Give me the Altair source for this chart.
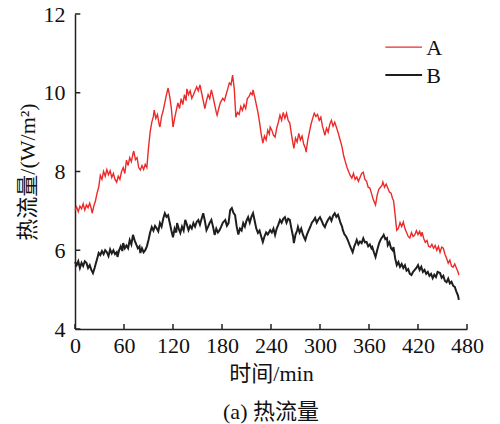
import altair as alt
import pandas as pd

# Heat-flux time series (min, W/m^2)
t_a = [0, 2, 4, 6, 8, 10, 12, 14, 16, 18, 20, 21, 23, 25, 27, 29, 31, 33, 35, 37, 39, 41, 43, 45, 47, 49, 51, 53, 55, 57, 59, 61, 63, 65, 67, 69, 71, 72, 74, 76, 78, 80, 82, 84, 86, 88, 90, 92, 94, 96, 97, 99, 101, 103, 104, 106, 108, 110, 112, 114, 116, 118, 120, 122, 124, 126, 128, 130, 132, 134, 136, 137, 139, 141, 143, 145, 147, 149, 151, 153, 155, 157, 159, 161, 163, 165, 167, 169, 171, 173, 174, 176, 178, 181, 183, 185, 187, 189, 191, 193, 195, 197, 199, 201, 203, 205, 207, 209, 211, 213, 215, 217, 218, 220, 222, 224, 226, 228, 230, 232, 234, 236, 238, 239, 241, 243, 245, 247, 249, 251, 253, 255, 257, 259, 261, 263, 265, 267, 268, 270, 272, 274, 276, 278, 280, 282, 283, 285, 287, 289, 291, 293, 295, 297, 299, 301, 303, 305, 306, 308, 310, 312, 314, 316, 318, 320, 322, 324, 326, 327, 329, 331, 333, 335, 337, 339, 341, 343, 345, 347, 349, 351, 353, 355, 357, 359, 361, 363, 365, 367, 368, 370, 372, 374, 376, 377, 379, 381, 383, 385, 387, 389, 390, 392, 393, 394, 396, 398, 400, 402, 404, 406, 408, 410, 412, 414, 416, 418, 420, 422, 424, 425, 427, 429, 431, 433, 435, 437, 439, 441, 443, 445, 447, 449, 451, 453, 455, 457, 459, 461, 463, 465, 467, 469, 470]
v_a = [7.02, 7.10, 6.98, 7.12, 7.05, 7.18, 7.02, 7.15, 7.08, 7.20, 7.05, 6.94, 7.12, 7.25, 7.45, 7.60, 7.90, 7.80, 8.00, 7.88, 8.05, 7.92, 8.02, 7.85, 7.95, 7.80, 7.73, 7.88, 7.80, 8.00, 8.10, 7.95, 8.29, 8.15, 8.35, 8.25, 8.45, 8.52, 8.30, 8.35, 8.10, 8.04, 8.15, 8.05, 8.18, 8.10, 8.60, 9.00, 9.25, 9.40, 9.56, 9.35, 9.45, 9.20, 9.13, 9.40, 9.55, 9.75, 9.95, 10.12, 9.90, 9.60, 9.13, 9.35, 9.55, 9.74, 9.60, 9.85, 9.70, 9.95, 9.80, 10.10, 9.95, 10.05, 9.86, 9.95, 10.05, 10.15, 10.05, 10.20, 10.00, 9.80, 9.60, 9.80, 9.95, 9.85, 10.07, 9.90, 9.70, 9.50, 9.43, 9.60, 9.75, 9.86, 9.80, 9.95, 10.10, 10.25, 10.20, 10.45, 10.10, 9.38, 9.50, 9.45, 9.65, 9.55, 9.70, 9.60, 9.85, 9.90, 10.00, 9.95, 10.07, 9.90, 9.70, 9.50, 9.25, 8.95, 8.72, 8.90, 8.80, 9.05, 8.95, 9.13, 9.05, 8.92, 8.87, 9.10, 9.25, 9.43, 9.30, 9.50, 9.35, 9.48, 9.30, 9.23, 8.95, 8.70, 8.59, 8.85, 8.75, 8.97, 8.80, 8.90, 8.70, 8.60, 8.49, 8.80, 9.00, 9.20, 9.35, 9.48, 9.40, 9.45, 9.30, 9.38, 9.15, 9.00, 8.92, 9.10, 9.00, 9.20, 9.30, 9.15, 9.25, 9.13, 9.00, 8.85, 8.70, 8.62, 8.40, 8.25, 8.11, 8.00, 7.90, 7.83, 7.95, 7.80, 7.86, 7.75, 7.85, 7.95, 7.98, 7.80, 7.75, 7.60, 7.58, 7.45, 7.30, 7.20, 7.15, 7.40, 7.55, 7.60, 7.65, 7.73, 7.60, 7.68, 7.58, 7.48, 7.45, 7.30, 7.27, 6.90, 6.69, 6.51, 6.56, 6.70, 6.60, 6.72, 6.55, 6.45, 6.35, 6.31, 6.45, 6.35, 6.39, 6.50, 6.40, 6.48, 6.35, 6.46, 6.30, 6.20, 6.25, 6.10, 6.08, 6.15, 6.05, 6.12, 6.00, 6.10, 5.95, 6.08, 6.05, 5.90, 5.80, 5.67, 5.75, 5.60, 5.57, 5.65, 5.55, 5.45, 5.37]

t_b = [0, 2, 4, 6, 8, 10, 12, 14, 16, 18, 20, 22, 24, 26, 28, 29, 31, 33, 35, 37, 39, 41, 43, 45, 47, 49, 51, 52, 54, 56, 58, 59, 61, 63, 65, 67, 69, 71, 73, 75, 77, 79, 80, 82, 84, 86, 88, 90, 92, 94, 96, 98, 100, 102, 104, 106, 108, 110, 112, 114, 116, 118, 120, 122, 124, 125, 127, 129, 131, 133, 135, 137, 139, 141, 143, 145, 147, 149, 151, 153, 155, 157, 159, 161, 163, 165, 167, 169, 171, 173, 175, 177, 179, 181, 184, 186, 188, 190, 192, 194, 196, 198, 200, 202, 204, 206, 208, 210, 212, 214, 216, 218, 220, 222, 224, 226, 228, 230, 232, 234, 236, 239, 241, 243, 245, 247, 249, 251, 253, 255, 257, 259, 261, 263, 265, 267, 268, 270, 272, 273, 275, 277, 279, 281, 282, 284, 286, 288, 290, 292, 294, 296, 298, 300, 302, 304, 306, 308, 310, 312, 314, 316, 318, 320, 322, 323, 325, 327, 328, 330, 332, 334, 336, 338, 340, 342, 344, 345, 347, 349, 351, 353, 355, 357, 359, 361, 363, 364, 366, 368, 370, 372, 373, 375, 377, 378, 380, 382, 383, 385, 387, 389, 390, 392, 394, 396, 398, 400, 402, 404, 406, 408, 410, 412, 414, 416, 418, 420, 422, 424, 426, 428, 430, 432, 434, 436, 438, 440, 442, 444, 447, 449, 451, 453, 455, 457, 459, 461, 463, 465, 467, 469, 470]
v_b = [5.70, 5.62, 5.72, 5.55, 5.68, 5.60, 5.72, 5.68, 5.55, 5.62, 5.50, 5.42, 5.55, 5.70, 5.85, 5.93, 5.88, 5.98, 5.90, 6.00, 5.95, 5.85, 6.02, 5.92, 6.00, 5.90, 5.95, 5.83, 6.00, 6.10, 5.98, 6.18, 6.05, 6.12, 6.05, 6.26, 6.15, 6.39, 6.25, 6.15, 6.05, 6.10, 5.93, 6.05, 5.95, 6.00, 6.10, 6.26, 6.45, 6.59, 6.50, 6.62, 6.56, 6.48, 6.69, 6.60, 6.80, 6.94, 6.85, 6.89, 6.70, 6.50, 6.33, 6.55, 6.45, 6.69, 6.55, 6.44, 6.60, 6.50, 6.77, 6.65, 6.51, 6.62, 6.55, 6.69, 6.60, 6.72, 6.77, 6.65, 6.80, 6.94, 6.75, 6.51, 6.60, 6.70, 6.77, 6.60, 6.39, 6.55, 6.45, 6.51, 6.60, 6.70, 6.77, 6.62, 6.69, 7.02, 7.07, 6.95, 6.89, 6.60, 6.40, 6.55, 6.50, 6.69, 6.60, 6.75, 6.84, 6.70, 6.85, 6.94, 6.75, 6.55, 6.44, 6.50, 6.35, 6.21, 6.35, 6.45, 6.40, 6.51, 6.45, 6.55, 6.39, 6.55, 6.65, 6.77, 6.70, 6.80, 6.84, 6.70, 6.80, 6.77, 6.55, 6.35, 6.18, 6.40, 6.50, 6.59, 6.45, 6.55, 6.40, 6.30, 6.26, 6.40, 6.50, 6.59, 6.70, 6.75, 6.82, 6.70, 6.78, 6.84, 6.75, 6.65, 6.59, 6.70, 6.78, 6.84, 6.75, 6.88, 6.94, 6.85, 6.90, 6.84, 6.70, 6.60, 6.51, 6.40, 6.35, 6.26, 6.15, 6.05, 5.95, 6.10, 6.20, 6.26, 6.15, 6.22, 6.18, 6.30, 6.20, 6.21, 6.10, 6.15, 6.05, 6.08, 5.95, 5.83, 6.00, 6.15, 6.21, 6.30, 6.35, 6.39, 6.28, 6.31, 6.13, 6.20, 6.05, 6.00, 6.08, 5.80, 5.62, 5.70, 5.58, 5.65, 5.55, 5.62, 5.48, 5.52, 5.40, 5.37, 5.45, 5.50, 5.55, 5.62, 5.50, 5.58, 5.45, 5.50, 5.40, 5.45, 5.35, 5.40, 5.29, 5.38, 5.32, 5.45, 5.42, 5.30, 5.35, 5.22, 5.19, 5.28, 5.16, 5.20, 5.10, 5.07, 4.95, 4.85, 4.74]

series_names = ["A", "B"]
series_colors = ["#ec2a2a", "#1e1e1e"]
series_widths = [1.4, 2.0]
x_ticks = [0, 60, 120, 180, 240, 300, 360, 420, 480]
y_ticks = [4, 6, 8, 10, 12]

# key placement, in data units of the plot
key_x0, key_x1, key_label_x = 380, 425, 430
key_rows_y = [11.16, 10.45]

FONT = "Liberation Serif, Noto Sans CJK SC"

df = pd.concat([
    pd.DataFrame({"t": t_a, "v": v_a, "s": "A"}),
    pd.DataFrame({"t": t_b, "v": v_b, "s": "B"}),
])
key_df = pd.DataFrame({"s": series_names, "y": key_rows_y,
                       "x0": key_x0, "x1": key_x1, "xl": key_label_x})

x_scale = alt.Scale(domain=[0, 480], nice=False, zero=False)
y_scale = alt.Scale(domain=[4, 12], nice=False, zero=False)
color_scale = alt.Scale(domain=series_names, range=series_colors)
width_scale = alt.Scale(domain=series_names, range=series_widths)

x_axis = alt.Axis(values=x_ticks, title="时间/min", grid=False, ticks=False,
                  labelFontSize=22, titleFontSize=22, labelPadding=6, titlePadding=7,
                  domainColor="#222", domainWidth=1.5, labelColor="#111", titleColor="#111",
                  labelFont=FONT, titleFont=FONT, titleFontWeight="normal")
y_axis = alt.Axis(values=y_ticks, title="热流量/(W/m²)", grid=False, ticks=False,
                  labelFontSize=22, titleFontSize=22, labelPadding=10, titlePadding=4,
                  domainColor="#222", domainWidth=1.5, labelColor="#111", titleColor="#111",
                  labelFont=FONT, titleFont=FONT, titleFontWeight="normal")

lines = alt.Chart(df).mark_line().encode(
    x=alt.X("t:Q", scale=x_scale, axis=x_axis),
    y=alt.Y("v:Q", scale=y_scale, axis=y_axis),
    color=alt.Color("s:N", scale=color_scale, legend=None),
    strokeWidth=alt.StrokeWidth("s:N", scale=width_scale, legend=None),
)

# series key (top right)
key_lines = alt.Chart(key_df).mark_rule().encode(
    x=alt.X("x0:Q", scale=x_scale),
    x2="x1:Q",
    y=alt.Y("y:Q", scale=y_scale),
    color=alt.Color("s:N", scale=color_scale, legend=None),
    strokeWidth=alt.StrokeWidth("s:N", scale=width_scale, legend=None),
)
key_text = alt.Chart(key_df).mark_text(align="left", baseline="middle", fontSize=22,
                                       font=FONT, color="#111", dy=1).encode(
    x=alt.X("xl:Q", scale=x_scale),
    y=alt.Y("y:Q", scale=y_scale),
    text="s:N",
)

# inward tick marks on both axes
xt = alt.Chart(pd.DataFrame({"t": x_ticks})).mark_rule(color="#222", strokeWidth=1.5).encode(
    x=alt.X("t:Q", scale=x_scale),
    y=alt.datum(4, scale=y_scale),
    y2=alt.datum(4.13),
)
yt = alt.Chart(pd.DataFrame({"v": y_ticks})).mark_rule(color="#222", strokeWidth=1.5).encode(
    y=alt.Y("v:Q", scale=y_scale),
    x=alt.datum(0, scale=x_scale),
    x2=alt.datum(6.5),
)

chart = alt.layer(lines, key_lines, key_text, xt, yt).properties(
    width=392, height=315,
    padding={"left": 75, "top": 14, "right": 33, "bottom": 95},
    autosize=alt.AutoSizeParams(type="none"),
    title=alt.TitleParams("(a) 热流量", orient="bottom", fontSize=22, font=FONT,
                          fontWeight="normal", color="#111", offset=18),
).configure_view(stroke=None).configure_axis(labelFlush=False)

chart.save("out.html", embed_options={"renderer": "svg", "actions": False})
